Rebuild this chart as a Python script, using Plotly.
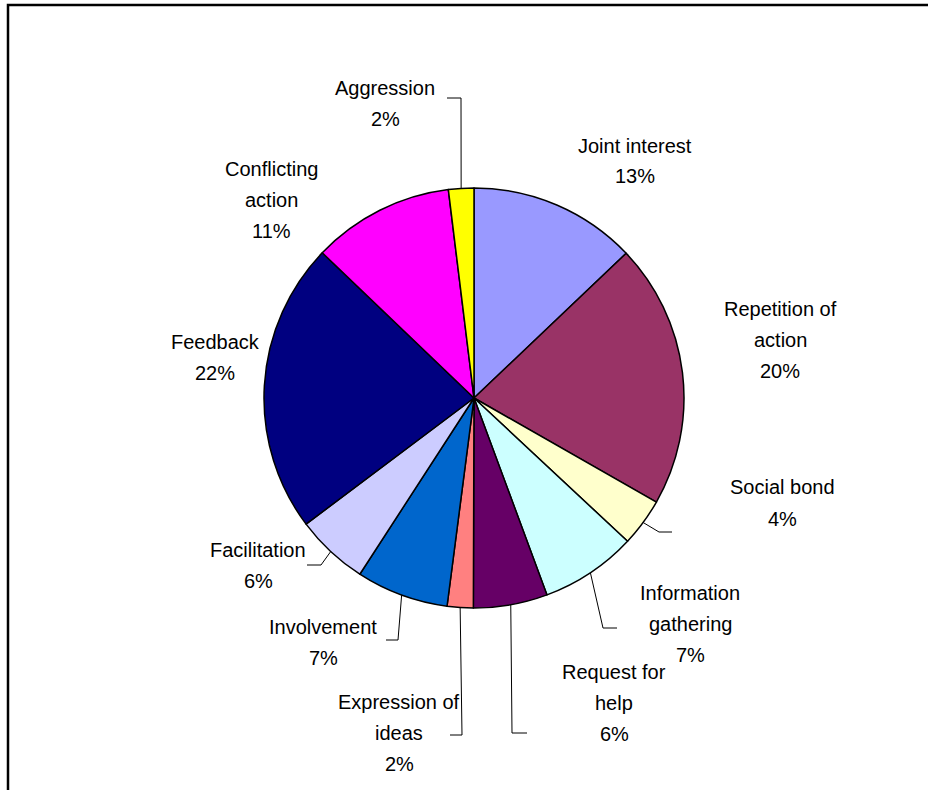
import math
import plotly.graph_objects as go

# ---- data ----
categories = ["Joint interest", "Repetition of action", "Social bond", "Information gathering",
              "Request for help", "Expression of ideas", "Involvement", "Facilitation",
              "Feedback", "Conflicting action", "Aggression"]
values = [12.9, 20.35, 3.7, 7.4, 5.7, 2.0, 7.1, 5.6, 22.4, 10.9, 1.95]
label_lines = [["Joint interest"], ["Repetition of", "action"], ["Social bond"],
               ["Information", "gathering"], ["Request for", "help"], ["Expression of", "ideas"],
               ["Involvement"], ["Facilitation"], ["Feedback"], ["Conflicting", "action"],
               ["Aggression"]]
colors = ["#9999FF", "#993366", "#FFFFCC", "#CCFFFF", "#660066", "#FF8080",
          "#0066CC", "#CCCCFF", "#000080", "#FF00FF", "#FFFF00"]

# ---- layout (pixels) ----
W, H = 928, 790
CX, CY, R = 474, 398, 210
FONT = "Liberation Sans, Arial, sans-serif"
FS = 20
LINE = 31

# label block centres (px)
label_pos = [(635, 161), (780, 340), (782, 503), (690, 624), (614, 703), (399, 733),
             (323, 642), (258, 565), (215, 357), (271, 200), (385, 103)]
# leader lines: (elbow, end) in px, or None
leaders = [None, None, [(659, 532), (672, 532)], [(603, 628), (617, 628)],
           [(512, 733), (527, 733)], [(462, 735), (450, 735)], [(398, 640), (386, 640)],
           [(321, 565), (307, 565)], None, None, [(461, 98), (447, 98)]]


def px(x, y):
    return x / W, 1 - y / H


fig = go.Figure(go.Pie(
    labels=categories, values=values, sort=False, direction="clockwise", rotation=0,
    marker=dict(colors=colors, line=dict(color="black", width=1.5)),
    textinfo="none", hoverinfo="label+percent", showlegend=False,
    domain=dict(x=[(CX - R) / W, (CX + R) / W], y=[1 - (CY + R) / H, 1 - (CY - R) / H]),
))

total = sum(values)
annotations = []
shapes = [dict(type="rect", xref="paper", yref="paper", x0=8 / W, x1=1.02, y0=-0.02, y1=1 - 5 / H,
               line=dict(color="black", width=2.5), fillcolor="rgba(0,0,0,0)", layer="above")]
cum = 0
for i, v in enumerate(values):
    mid = (cum + v / 2) / total * 2 * math.pi
    cum += v
    pct = f"{round(v / total * 100)}%"
    lines = label_lines[i] + [pct]
    lx, ly = label_pos[i]
    n = len(lines)
    for k, t in enumerate(lines):
        yy = ly + (k - (n - 1) / 2) * LINE
        ax, ay = px(lx, yy)
        annotations.append(dict(text=t, x=ax, y=ay, xref="paper", yref="paper", showarrow=False,
                                xanchor="center", yanchor="middle",
                                font=dict(family=FONT, size=FS, color="black")))
    if leaders[i]:
        rx = CX + R * math.sin(mid)
        ry = CY - R * math.cos(mid)
        pts = [(rx, ry)] + leaders[i]
        path = "M " + " L ".join(f"{px(a, b)[0]},{px(a, b)[1]}" for a, b in pts)
        shapes.append(dict(type="path", xref="paper", yref="paper", path=path,
                           line=dict(color="black", width=1)))

fig.update_layout(width=W, height=H, margin=dict(l=0, r=0, t=0, b=0),
                  paper_bgcolor="white", plot_bgcolor="white",
                  annotations=annotations, shapes=shapes)
fig.write_html("out.html")
